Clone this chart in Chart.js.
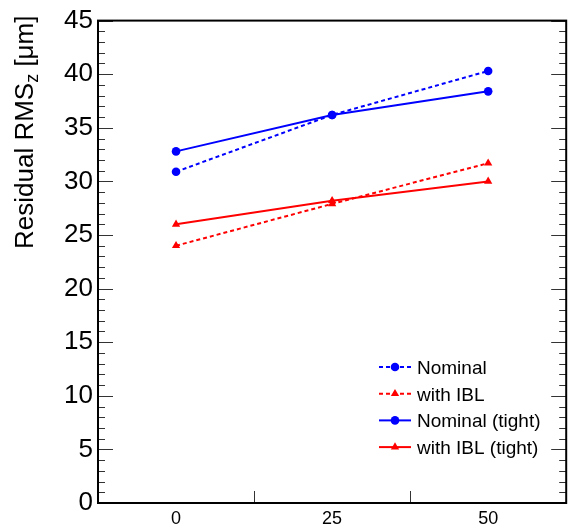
<!DOCTYPE html>
<html>
<head>
<meta charset="utf-8">
<script src="https://cdn.jsdelivr.net/npm/chart.js@4"></script>
<style>
  body { margin: 0; background: #fff; }
  canvas { display: block; }
</style>
</head>
<body>
<canvas id="chart" width="571" height="528"></canvas>
<script>
// chart values
const xLabels = ['0', '25', '50'];
const nominal = [30.9, 36.2, 40.3];
const withIBL = [24.0, 27.9, 31.7];
const nominalTight = [32.8, 36.2, 38.4];
const withIBLTight = [26.0, 28.2, 30.0];
const yTitle = ['Residual RMS', 'z', ' [\u03bcm]'];

const FONT = "'Liberation Sans', Arial, Helvetica, sans-serif";
Chart.defaults.font.family = FONT;
Chart.defaults.color = '#000';

function series(label, data, color, dashed, marker) {
    return {
        label: label,
        data: data,
        borderColor: color,
        backgroundColor: color,
        borderWidth: 2,
        borderDash: dashed ? [4, 3] : [],
        pointStyle: marker,
        pointRadius: marker === 'triangle' ? 4.8 : 4.3,
        pointBackgroundColor: color,
        pointBorderColor: color,
        pointBorderWidth: 0,
        tension: 0,
        fill: false
    };
}

// ROOT style frame, inward ticks, legend and y title
const rootStyle = {
    id: 'rootStyle',
    afterDraw(chart) {
        const ctx = chart.ctx;
        const a = chart.chartArea;
        const x = chart.scales.x;
        const y = chart.scales.y;
        ctx.save();

        // ticks on y (both sides)
        ctx.strokeStyle = '#333';
        ctx.lineWidth = 1;
        for (let v = 0; v <= 45; v++) {
            const py = Math.round(y.getPixelForValue(v)) + 0.5;
            const len = v % 5 === 0 ? 15 : 7;
            ctx.beginPath();
            ctx.moveTo(a.left, py); ctx.lineTo(a.left + len, py);
            ctx.moveTo(a.right, py); ctx.lineTo(a.right - len, py);
            ctx.stroke();
        }
        // ticks on x at bin edges
        for (let i = 0; i < xLabels.length - 1; i++) {
            const px = Math.round((x.getPixelForValue(i) + x.getPixelForValue(i + 1)) / 2) + 0.5;
            ctx.beginPath();
            ctx.moveTo(px, a.bottom); ctx.lineTo(px, a.bottom - 12);
            ctx.stroke();
        }

        // frame
        ctx.strokeStyle = '#000';
        ctx.lineWidth = 2;
        ctx.strokeRect(a.left, a.top, a.right - a.left, a.bottom - a.top);

        // legend
        ctx.font = '19px ' + FONT;
        ctx.textBaseline = 'alphabetic';
        chart.data.datasets.forEach((ds, i) => {
            const cy = 367 + i * 26.7;
            ctx.strokeStyle = ds.borderColor;
            ctx.fillStyle = ds.borderColor;
            ctx.lineWidth = 2;
            ctx.setLineDash(ds.borderDash);
            ctx.beginPath();
            ctx.moveTo(379, cy); ctx.lineTo(411, cy);
            ctx.stroke();
            ctx.setLineDash([]);
            ctx.beginPath();
            if (ds.pointStyle === 'triangle') {
                const r = ds.pointRadius;
                ctx.moveTo(395, cy - r);
                ctx.lineTo(395 + r * 0.866, cy + r / 2);
                ctx.lineTo(395 - r * 0.866, cy + r / 2);
                ctx.closePath();
            } else {
                ctx.arc(395, cy, ds.pointRadius, 0, Math.PI * 2);
            }
            ctx.fill();
            ctx.fillStyle = '#000';
            ctx.fillText(ds.label, 417, cy + 7);
        });

        // y axis title with subscript
        ctx.translate(33, 249);
        ctx.rotate(-Math.PI / 2);
        ctx.fillStyle = '#000';
        ctx.font = '26px ' + FONT;
        let tx = 0;
        ctx.fillText(yTitle[0], tx, 0);
        tx += ctx.measureText(yTitle[0]).width;
        ctx.font = '18px ' + FONT;
        ctx.fillText(yTitle[1], tx, 5);
        tx += ctx.measureText(yTitle[1]).width;
        ctx.font = '26px ' + FONT;
        ctx.fillText(yTitle[2], tx, 0);

        ctx.restore();
    }
};

new Chart(document.getElementById('chart').getContext('2d'), {
    type: 'line',
    data: {
        labels: xLabels,
        datasets: [
            series('Nominal', nominal, '#0000ff', true, 'circle'),
            series('with IBL', withIBL, '#ff0000', true, 'triangle'),
            series('Nominal (tight)', nominalTight, '#0000ff', false, 'circle'),
            series('with IBL (tight)', withIBLTight, '#ff0000', false, 'triangle')
        ]
    },
    options: {
        responsive: false,
        animation: false,
        layout: { padding: { left: 0, top: 17, right: 3, bottom: 0 } },
        plugins: { legend: { display: false }, tooltip: { enabled: false } },
        scales: {
            x: {
                type: 'category',
                offset: true,
                grid: { display: false, drawTicks: false },
                border: { display: false },
                ticks: { font: { size: 18 }, padding: 5, color: '#000', maxRotation: 0 },
                afterFit: (s) => { s.height = 25; }
            },
            y: {
                min: 0,
                max: 45,
                grid: { display: false, drawTicks: false },
                border: { display: false },
                ticks: { stepSize: 5, font: { size: 26 }, padding: 5, color: '#000' },
                afterFit: (s) => { s.width = 98; }
            }
        }
    },
    plugins: [rootStyle]
});
</script>
</body>
</html>
